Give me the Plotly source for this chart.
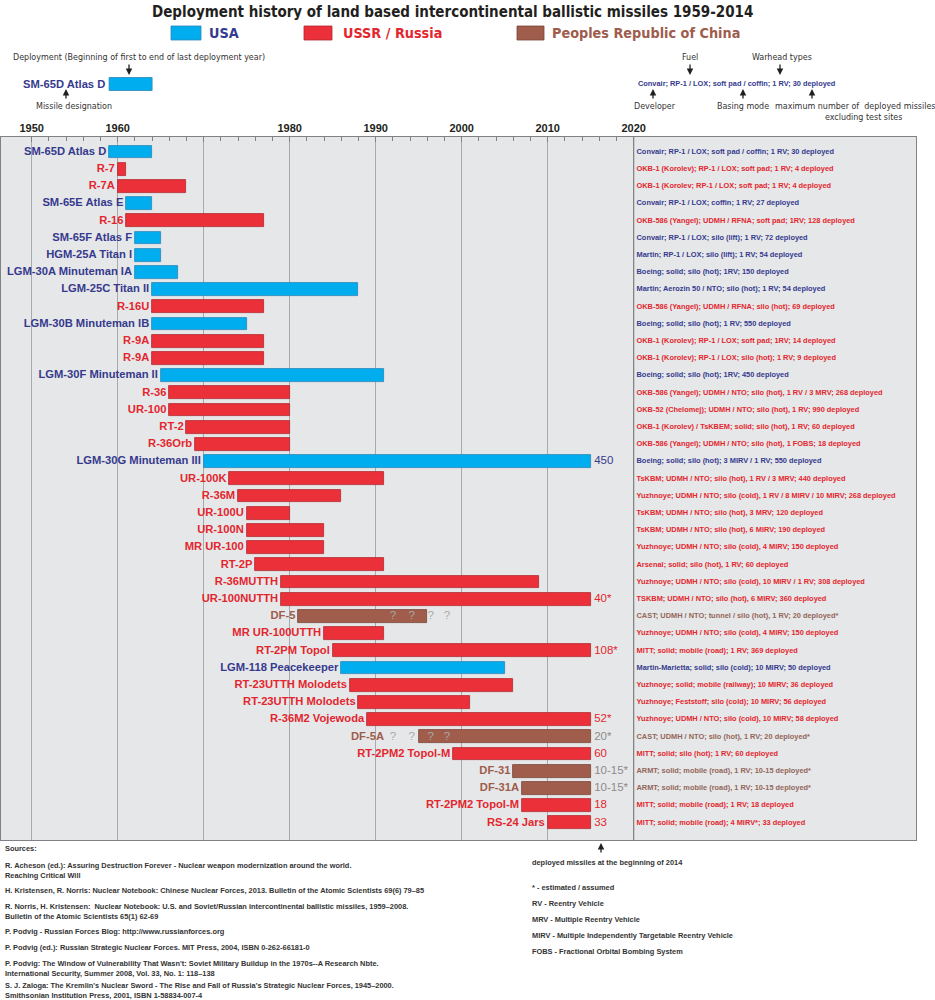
import plotly.graph_objects as go

# ---------------- data ----------------
names = [
    "SM-65D Atlas D", "R-7", "R-7A", "SM-65E Atlas E", "R-16", "SM-65F Atlas F",
    "HGM-25A Titan I", "LGM-30A Minuteman IA", "LGM-25C Titan II", "R-16U",
    "LGM-30B Minuteman IB", "R-9A", "R-9A", "LGM-30F Minuteman II", "R-36",
    "UR-100", "RT-2", "R-36Orb", "LGM-30G Minuteman III", "UR-100K", "R-36M",
    "UR-100U", "UR-100N", "MR UR-100", "RT-2P", "R-36MUTTH", "UR-100NUTTH",
    "DF-5", "MR UR-100UTTH", "RT-2PM Topol", "LGM-118 Peacekeeper",
    "RT-23UTTH Molodets", "RT-23UTTH Molodets", "R-36M2 Vojewoda", "DF-5A",
    "RT-2PM2 Topol-M", "DF-31", "DF-31A", "RT-2PM2 Topol-M", "RS-24 Jars",
]
countries = [
    "USA", "USSR", "USSR", "USA", "USSR", "USA", "USA", "USA", "USA", "USSR",
    "USA", "USSR", "USSR", "USA", "USSR", "USSR", "USSR", "USSR", "USA", "USSR",
    "USSR", "USSR", "USSR", "USSR", "USSR", "USSR", "USSR", "PRC", "USSR", "USSR",
    "USA", "USSR", "USSR", "USSR", "PRC", "USSR", "PRC", "PRC", "USSR", "USSR",
]
start_years = [
    1959, 1960, 1960, 1961, 1961, 1962, 1962, 1962, 1964, 1964,
    1964, 1964, 1964, 1965, 1966, 1966, 1968, 1969, 1970, 1973,
    1974, 1975, 1975, 1975, 1976, 1979, 1979, 1981, 1984, 1985,
    1986, 1987, 1988, 1989, 1995, 1999, 2006, 2007, 2007, 2010,
]
end_years = [
    1964, 1961, 1968, 1964, 1977, 1965, 1965, 1967, 1988, 1977,
    1975, 1977, 1977, 1991, 1980, 1980, 1980, 1980, 2015, 1991,
    1986, 1980, 1984, 1984, 1991, 2009, 2015, 1996, 1991, 2015,
    2005, 2006, 2001, 2015, 2015, 2015, 2015, 2015, 2015, 2015,
]
details = [
    "Convair; RP-1 / LOX; soft pad / coffin; 1 RV; 30 deployed",
    "OKB-1 (Korolev); RP-1 / LOX; soft pad; 1 RV; 4 deployed",
    "OKB-1 (Korolev; RP-1 / LOX; soft pad; 1 RV; 4 deployed",
    "Convair; RP-1 / LOX; coffin; 1 RV; 27 deployed",
    "OKB-586 (Yangel); UDMH / RFNA; soft pad; 1RV; 128 deployed",
    "Convair; RP-1 / LOX; silo (lift); 1 RV; 72 deployed",
    "Martin; RP-1 / LOX; silo (lift); 1 RV; 54 deployed",
    "Boeing; solid; silo (hot); 1RV; 150 deployed",
    "Martin; Aerozin 50 / NTO; silo (hot); 1 RV; 54 deployed",
    "OKB-586 (Yangel); UDMH / RFNA; silo (hot); 69 deployed",
    "Boeing; solid; silo (hot); 1 RV; 550 deployed",
    "OKB-1 (Korolev); RP-1 / LOX; soft pad; 1RV; 14 deployed",
    "OKB-1 (Korolev); RP-1 / LOX; silo (hot); 1 RV; 9 deployed",
    "Boeing; solid; silo (hot); 1RV; 450 deployed",
    "OKB-586 (Yangel); UDMH / NTO; silo (hot), 1 RV / 3 MRV; 268 deployed",
    "OKB-52 (Chelomej); UDMH / NTO; silo (hot), 1 RV; 990 deployed",
    "OKB-1 (Korolev) / TsKBEM; solid; silo (hot), 1 RV; 60 deployed",
    "OKB-586 (Yangel); UDMH / NTO; silo (hot), 1 FOBS; 18 deployed",
    "Boeing; solid; silo (hot); 3 MIRV / 1 RV; 550 deployed",
    "TsKBM; UDMH / NTO; silo (hot), 1 RV / 3 MRV; 440 deployed",
    "Yuzhnoye; UDMH / NTO; silo (cold), 1 RV / 8 MIRV / 10 MIRV; 268 deployed",
    "TsKBM; UDMH / NTO; silo (hot), 3 MRV; 120 deployed",
    "TsKBM; UDMH / NTO; silo (hot), 6 MIRV; 190 deployed",
    "Yuzhnoye; UDMH / NTO; silo (cold), 4 MIRV; 150 deployed",
    "Arsenal; solid; silo (hot), 1 RV; 60 deployed",
    "Yuzhnoye; UDMH / NTO; silo (cold), 10 MIRV / 1 RV; 308 deployed",
    "TSKBM; UDMH / NTO; silo (hot), 6 MIRV; 360 deployed",
    "CAST; UDMH / NTO; tunnel / silo (hot), 1 RV; 20 deployed*",
    "Yuzhnoye; UDMH / NTO; silo (cold), 4 MIRV; 150 deployed",
    "MITT; solid; mobile (road); 1 RV; 369 deployed",
    "Martin-Marietta; solid; silo (cold); 10 MIRV; 50 deployed",
    "Yuzhnoye; solid; mobile (railway); 10 MIRV; 36 deployed",
    "Yuzhnoye; Feststoff; silo (cold); 10 MIRV; 56 deployed",
    "Yuzhnoye; UDMH / NTO; silo (cold), 10 MIRV; 58 deployed",
    "CAST; UDMH / NTO; silo (hot), 1 RV; 20 deployed*",
    "MITT; solid; silo (hot); 1 RV; 60 deployed",
    "ARMT; solid; mobile (road), 1 RV; 10-15 deployed*",
    "ARMT; solid; mobile (road), 1 RV; 10-15 deployed*",
    "MITT; solid; mobile (road); 1 RV; 18 deployed",
    "MITT; solid; mobile (road); 4 MIRV*; 33 deployed",
]
deployed_2014 = [
    "", "", "", "", "", "", "", "", "", "",
    "", "", "", "", "", "", "", "", "450", "",
    "", "", "", "", "", "", "40*", "", "", "108*",
    "", "", "", "52*", "20*", "60", "10-15*", "10-15*", "18", "33",
]
uncertain_rows = ["DF-5", "DF-5A"]
uncertain_years = [1992.0, 1994.2, 1996.4, 1998.3]

tick_years = [1950, 1960, 1970, 1980, 1990, 2000, 2010, 2020]
tick_labels = ["1950", "1960", "", "1980", "1990", "2000", "2010", "2020"]
minor_years = [y for y in range(1952, 2020, 2) if y % 10 != 0]

legend_labels = {"USA": "USA", "USSR": "USSR / Russia", "PRC": "Peoples Republic of China"}

sources = [
    "Sources:",
    "R. Acheson (ed.): Assuring Destruction Forever - Nuclear weapon modernization around the world.<br>Reaching Critical Will",
    "H. Kristensen, R. Norris: Nuclear Notebook: Chinese Nuclear Forces, 2013. Bulletin of the Atomic Scientists 69(6) 79\u201385",
    "R. Norris, H. Kristensen:  Nuclear Notebook: U.S. and Soviet/Russian intercontinental ballistic missiles, 1959\u20132008.<br>Bulletin of the Atomic Scientists 65(1) 62-69",
    "P. Podvig - Russian Forces Blog: http://www.russianforces.org",
    "P. Podvig (ed.): Russian Strategic Nuclear Forces. MIT Press, 2004, ISBN 0-262-66181-0",
    "P. Podvig: The Window of Vulnerability That Wasn't: Soviet Military Buildup in the 1970s--A Research Nbte.<br>International Security, Summer 2008, Vol. 33, No. 1: 118\u2013138",
    "S. J. Zaloga: The Kremlin's Nuclear Sword - The Rise and Fall of Russia's Strategic Nuclear Forces, 1945\u20132000.<br>Smithsonian Institution Press, 2001, ISBN 1-58834-007-4",
]
footnotes = [
    "* - estimated / assumed",
    "RV - Reentry Vehicle",
    "MRV - Multiple Reentry Vehicle",
    "MIRV - Multiple Independently Targetable Reentry Vehicle",
    "FOBS - Fractional Orbital Bombing System",
]

# ---------------- styles ----------------
COND = "DejaVu Sans Condensed, DejaVu Sans, sans-serif"
SANS = "Liberation Sans, Arial, sans-serif"
bar_colors = {"USA": "#00AEEF", "USSR": "#EC3039", "PRC": "#A15D4B"}
bar_lines = {"USA": "#2B86B8", "USSR": "#B0282E", "PRC": "#7A4537"}
name_colors = {"USA": "#353A8E", "USSR": "#E3262E", "PRC": "#9E5C4C"}
detail_colors = {"USA": "#353A8E", "USSR": "#E3262E", "PRC": "#93665A"}
count_colors = {"USA": "#353A8E", "USSR": "#E3262E", "PRC": "#8E8A88"}
GREY_BG = "#E6E7E8"
DARK = "#231F20"
SMALL = 7.4

W, H = 935, 1000
ML, MR, MT, MB = 1, 19, 137, 160
PW, PH = W - ML - MR, H - MT - MB


def xp(px):
    return (px - ML) / PW


def yp(py):
    return (H - MB - py) / PH


rows = list(range(len(names)))
fig = go.Figure()

for c in ["USA", "USSR", "PRC"]:
    idx = [i for i in rows if countries[i] == c]
    fig.add_trace(go.Bar(
        orientation="h",
        y=idx,
        x=[end_years[i] - start_years[i] for i in idx],
        base=[start_years[i] for i in idx],
        width=0.74,
        marker=dict(color=bar_colors[c], line=dict(color=bar_lines[c], width=0.8)),
        hoverinfo="skip", showlegend=False,
    ))

# label anchor: bar start, or before the uncertain range for rows with "?" marks
label_x = [
    min(start_years[i], uncertain_years[0] - 0.7) if names[i] in uncertain_rows else start_years[i]
    for i in rows
]
INVIS = dict(size=3, color="rgba(0,0,0,0)")

# missile names
fig.add_trace(go.Scatter(
    x=label_x, y=rows, mode="markers+text", marker=INVIS, text=names, textposition="middle left",
    textfont=dict(family=SANS, size=11.2, color=[name_colors[c] for c in countries], weight="bold"),
    hoverinfo="skip", showlegend=False,
))

# deployed at beginning 2014
cnt = [i for i in rows if deployed_2014[i]]
fig.add_trace(go.Scatter(
    x=[end_years[i] for i in cnt], y=cnt, mode="markers+text", marker=dict(size=4, color="rgba(0,0,0,0)"),
    text=[deployed_2014[i] for i in cnt], textposition="middle right",
    textfont=dict(family=SANS, size=11.5, color=[count_colors[countries[i]] for i in cnt]),
    hoverinfo="skip", showlegend=False,
))

# question marks (uncertain deployment)
qx, qy = [], []
for i in rows:
    if names[i] in uncertain_rows:
        for yv in uncertain_years:
            qx.append(yv)
            qy.append(i)
fig.add_trace(go.Scatter(
    x=qx, y=qy, mode="text", text=["?"] * len(qx), textposition="middle center",
    textfont=dict(family=SANS, size=11.5, color="#A7A9AC"),
    hoverinfo="skip", showlegend=False,
))

# details column
fig.add_trace(go.Scatter(
    x=[2020] * len(rows), y=rows, mode="markers+text", marker=INVIS, text=details,
    textposition="middle right",
    textfont=dict(family=SANS, size=SMALL, color=[detail_colors[c] for c in countries], weight="bold"),
    hoverinfo="skip", showlegend=False,
))

fig.update_layout(
    width=W, height=H,
    margin=dict(l=ML, r=MR, t=MT, b=MB, pad=0),
    paper_bgcolor="white", plot_bgcolor=GREY_BG,
    showlegend=False, bargap=0,
    xaxis=dict(
        range=[1946.43, 2052.83], side="top",
        tickvals=tick_years, ticktext=tick_labels,
        tickfont=dict(family=SANS, size=11, color=DARK, weight="bold"),
        showgrid=True, gridcolor="#A7A9AC", gridwidth=1,
        ticks="inside", ticklen=5, tickcolor="#808285",
        minor=dict(tickvals=minor_years, ticks="inside", ticklen=4, tickcolor="#808285", showgrid=False),
        showline=True, mirror=True, linecolor="#808285", linewidth=1, zeroline=False,
        fixedrange=True,
    ),
    yaxis=dict(
        range=[40.0, -0.872], showticklabels=False, showgrid=False, zeroline=False,
        showline=True, mirror=True, linecolor="#808285", linewidth=1, fixedrange=True,
    ),
)

# separator between timeline and description column
fig.add_shape(type="line", xref="x", yref="paper", x0=2020, x1=2020, y0=0, y1=1,
              line=dict(color="#808285", width=1.2))

ann = []
# title
ann.append(dict(x=xp(452), y=yp(12), xref="paper", yref="paper",
                text="Deployment history of land based intercontinental ballistic missiles 1959-2014",
                showarrow=False, xanchor="center", yanchor="middle",
                font=dict(family=COND, size=15, color=DARK, weight="bold")))

# legend
legend_pos = {"USA": (171, 201, 207), "USSR": (304, 332, 341), "PRC": (517, 544, 550)}
for c, (x0, x1, tx) in legend_pos.items():
    fig.add_shape(type="rect", xref="paper", yref="paper", x0=xp(x0), x1=xp(x1),
                  y0=yp(40), y1=yp(26), fillcolor=bar_colors[c], line=dict(color=bar_lines[c], width=0.8))
    ann.append(dict(x=xp(tx), y=yp(33), xref="paper", yref="paper", text=legend_labels[c],
                    showarrow=False, xanchor="left", yanchor="middle",
                    font=dict(family=COND, size=14.3, color=name_colors[c], weight="bold")))

# example row in header
ex = 0
fig.add_shape(type="rect", xref="x", yref="paper", x0=start_years[ex], x1=end_years[ex],
              y0=yp(90.5), y1=yp(77.5), fillcolor=bar_colors[countries[ex]],
              line=dict(color=bar_lines[countries[ex]], width=0.8))
ann.append(dict(x=start_years[ex], y=yp(84), xref="x", yref="paper", text=names[ex],
                showarrow=False, xanchor="right", yanchor="middle", xshift=-2,
                font=dict(family=SANS, size=11.2, color=name_colors[countries[ex]], weight="bold")))
ann.append(dict(x=2020, y=yp(84), xref="x", yref="paper", text=details[ex],
                showarrow=False, xanchor="left", yanchor="middle", xshift=2,
                font=dict(family=SANS, size=SMALL, color=detail_colors[countries[ex]], weight="bold")))

HF = dict(family=COND, size=8.9, color="#333333")
header_texts = [
    ("Deployment (Beginning of first to end of last deployment year)", 11, 57, "left"),
    ("Missile designation", 34, 106, "left"),
    ("Fuel", 690, 57, "center"),
    ("Warhead types", 782, 57, "center"),
    ("Developer", 655, 106, "center"),
    ("Basing mode", 743, 106, "center"),
    ("maximum number of  deployed missiles", 855, 106, "center"),
    ("excluding test sites", 863, 117, "center"),
]
for t, x, y, a in header_texts:
    ann.append(dict(x=xp(x), y=yp(y), xref="paper", yref="paper", text=t, showarrow=False,
                    xanchor=a, yanchor="middle", font=HF))

# arrows: (x px, head y px, tail offset px)
arrows = [(129, 75, -12), (66, 89, 11), (690, 75, -12), (780, 75, -12),
          (653, 89, 11), (743, 89, 11), (812, 89, 11), (601, 843, 11)]
for x, y, off in arrows:
    ann.append(dict(x=xp(x), y=yp(y), xref="paper", yref="paper", text="", showarrow=True,
                    ax=0, ay=off, arrowhead=2, arrowsize=1, arrowwidth=1.3, arrowcolor=DARK))

SF = dict(family=SANS, size=SMALL, color="#333333", weight="bold")
# footer: deployed missiles note
ann.append(dict(x=xp(530), y=yp(862), xref="paper", yref="paper",
                text="deployed missiles at the beginning of 2014", showarrow=False,
                xanchor="left", yanchor="middle", font=SF))
for k, t in enumerate(footnotes):
    ann.append(dict(x=xp(530), y=yp(887 + 16.2 * k), xref="paper", yref="paper", text=t,
                    showarrow=False, xanchor="left", yanchor="middle", font=SF))

# sources
src_y = [848, 870, 891, 911, 931, 947, 968, 990]
for t, y in zip(sources, src_y):
    ann.append(dict(x=xp(3), y=yp(y), xref="paper", yref="paper", text=t, showarrow=False,
                    xanchor="left", yanchor="middle", align="left", font=SF))

fig.update_layout(annotations=ann)
fig.write_html("out.html", config={"displayModeBar": False},
               post_script="document.body.style.margin='0px';")
